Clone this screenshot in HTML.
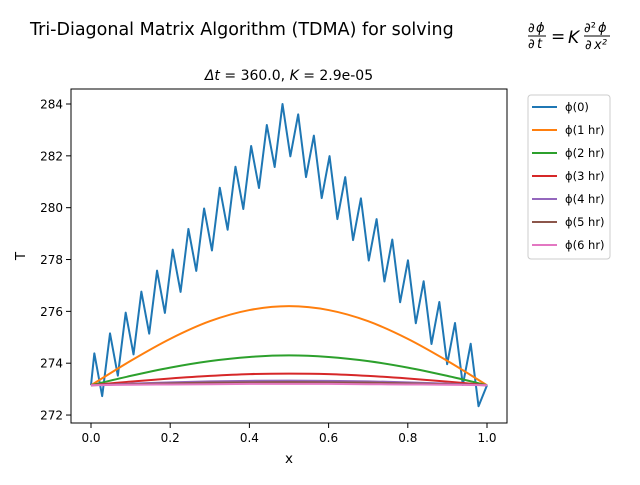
<!DOCTYPE html>
<html><head><meta charset="utf-8"><style>
body{margin:0;background:#fff}
svg text{font-family:"DejaVu Sans","Liberation Sans",sans-serif}
</style></head><body>
<svg id="c" width="640" height="480" xmlns="http://www.w3.org/2000/svg">
<text x="30" y="35" font-size="17.5">Tri-Diagonal Matrix Algorithm (TDMA) for solving</text>
<g font-size="13" font-style="italic">
<text x="528" y="32" font-style="normal">∂</text><text x="536" y="32">ϕ</text>
<line x1="528" y1="36" x2="546" y2="36" stroke="#000" stroke-width="0.9"/>
<text x="528" y="48" font-style="normal">∂</text><text x="537" y="48">t</text>
<text x="551" y="42" font-size="17" font-style="normal">=</text>
<text x="568" y="43" font-size="17">K</text>
<text x="584" y="32" font-style="normal">∂²</text><text x="598" y="32">ϕ</text>
<line x1="584" y1="36" x2="610" y2="36" stroke="#000" stroke-width="0.9"/>
<text x="585" y="49" font-style="normal">∂</text><text x="594" y="49">x²</text>
</g>
<text x="289" y="80" font-size="14" text-anchor="middle"><tspan font-style="italic">Δt</tspan> =  360.0, <tspan font-style="italic">K</tspan> =  2.9e-05</text>
<g id="plot"></g>
<rect x="71" y="89" width="436" height="334" fill="none" stroke="#000" stroke-width="1"/>
<text x="289" y="463" font-size="13.5" text-anchor="middle">x</text>
<text x="0" y="0" font-size="13.5" text-anchor="middle" transform="translate(25,256) rotate(-90)">T</text>
<g id="legend">
<rect x="528" y="95" width="82" height="164" rx="3" fill="#fff" stroke="#ccc" stroke-width="1"/>
</g>
</svg>
<script>
const blueY = [273.15,274.38,272.73,275.15,273.52,275.95,274.34,276.76,275.14,277.57,275.94,278.38,276.75,279.18,277.56,279.97,278.35,280.77,279.15,281.58,279.95,282.38,280.76,283.19,281.57,284.0,281.98,283.60,281.18,282.78,280.37,281.99,279.56,281.18,278.75,280.36,277.96,279.56,277.15,278.77,276.35,277.97,275.54,277.16,274.74,276.36,273.96,275.55,273.16,274.75,272.34,273.15];
const smoothX = [0,0.1,0.2,0.3,0.4,0.5,0.6,0.7,0.8,0.9,1.0];
const orangeY = [273.15,274.09,274.94,275.62,276.05,276.2,276.05,275.62,274.94,274.09,273.15];
const greenY = [273.15,273.51,273.83,274.08,274.24,274.3,274.24,274.08,273.83,273.51,273.15];
const redY = [273.15,273.29,273.41,273.51,273.58,273.6,273.58,273.51,273.41,273.29,273.15];
const purpleY = [273.15,273.21,273.26,273.30,273.32,273.33,273.32,273.30,273.26,273.21,273.15];
const brownY = [273.15,273.19,273.22,273.25,273.26,273.27,273.26,273.25,273.22,273.19,273.15];
const pinkY = [273.15,273.17,273.18,273.19,273.20,273.20,273.20,273.19,273.18,273.17,273.15];
const legendLabels = ["ϕ(0)","ϕ(1 hr)","ϕ(2 hr)","ϕ(3 hr)","ϕ(4 hr)","ϕ(5 hr)","ϕ(6 hr)"];
const xTicks = [0,0.2,0.4,0.6,0.8,1.0];
const xTickLabels = ["0.0","0.2","0.4","0.6","0.8","1.0"];
const yTicks = [272,274,276,278,280,282,284];

const NS="http://www.w3.org/2000/svg";
const sx = v => 91 + v*396;
const sy = v => 104 + (284 - v)*25.92;
const plot = document.getElementById('plot');
const svg = document.getElementById('c');
function mk(tag, attrs, parent){const e=document.createElementNS(NS,tag);for(const k in attrs)e.setAttribute(k,attrs[k]);(parent||svg).appendChild(e);return e;}

xTicks.forEach((t,i)=>{
  const g=mk('g',{});
  
  
  mk('line',{x1:sx(t),x2:sx(t),y1:423,y2:428,stroke:'#000'},g);
  const tx=mk('text',{x:sx(t),y:442,'font-size':12,'text-anchor':'middle'},g);tx.textContent=xTickLabels[i];
});
yTicks.forEach(t=>{
  const g=mk('g',{});
  
  
  mk('line',{x1:66,x2:71,y1:sy(t),y2:sy(t),stroke:'#000'},g);
  const tx=mk('text',{x:63,y:sy(t)+4.5,'font-size':12,'text-anchor':'end'},g);tx.textContent=String(t);
});

const blueX = blueY.map((_,i)=> i===0?0:(i===blueY.length-1?1:0.0084+0.0198*(i-1)));
let d='';blueY.forEach((v,i)=>{d+=(i?'L':'M')+sx(blueX[i]).toFixed(2)+','+sy(v).toFixed(2);});
const bl=mk('path',{d:d,fill:'none',stroke:'#1f77b4','stroke-width':2,'stroke-linejoin':'round'},plot);



function smooth(xs,ys){
  const p=xs.map((x,i)=>[sx(x),sy(ys[i])]);
  let d='M'+p[0][0]+','+p[0][1];
  for(let i=0;i<p.length-1;i++){
    const p0=p[i-1]||p[i],p1=p[i],p2=p[i+1],p3=p[i+2]||p[i+1];
    const c1=[p1[0]+(p2[0]-p0[0])/6,p1[1]+(p2[1]-p0[1])/6];
    const c2=[p2[0]-(p3[0]-p1[0])/6,p2[1]-(p3[1]-p1[1])/6];
    d+='C'+c1.join(',')+' '+c2.join(',')+' '+p2.join(',');
  }
  return d;
}
const series=[[orangeY,'#ff7f0e','series-phi-1hr'],[greenY,'#2ca02c','series-phi-2hr'],[redY,'#d62728','series-phi-3hr'],[purpleY,'#9467bd','series-phi-4hr'],[brownY,'#8c564b','series-phi-5hr'],[pinkY,'#e377c2','series-phi-6hr']];
series.forEach(s=>{
  const p=mk('path',{d:smooth(smoothX,s[0]),fill:'none',stroke:s[1],'stroke-width':2},plot);
  
  
});

const colors=['#1f77b4','#ff7f0e','#2ca02c','#d62728','#9467bd','#8c564b','#e377c2'];
const leg=document.getElementById('legend');
legendLabels.forEach((l,i)=>{
  const y=107+i*23;
  const g=mk('g',{},leg);
  
  
  mk('line',{x1:532,x2:557,y1:y,y2:y,stroke:colors[i],'stroke-width':2},g);
  const t=mk('text',{x:565,y:y+4,'font-size':11.5},g);t.textContent=l;
});
</script>
</body></html>
